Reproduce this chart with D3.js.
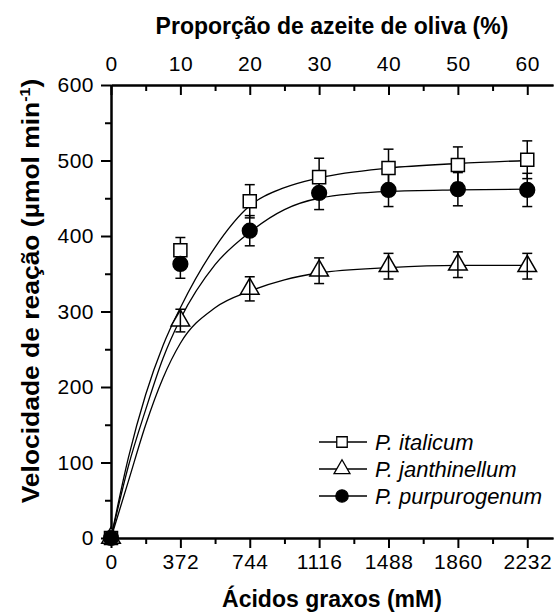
<!DOCTYPE html>
<html>
<head>
<meta charset="utf-8">
<script src="https://d3js.org/d3.v7.min.js"></script>
<style>
  body { margin: 0; background: #fff; }
  svg text { font-family: "Liberation Sans", Arial, sans-serif; fill: #000; }
</style>
</head>
<body>
<svg width="555" height="615"></svg>
<script>
// data
const xVals = [0, 372, 744, 1116, 1488, 1860, 2232];
const italicum = [0, 381, 446, 478, 490, 494, 501];
const italicumErr = [0, 17, 22, 25, 25, 24, 25];
const janthinellum = [0, 288, 330, 354, 360, 362, 360];
const janthinellumErr = [0, 15, 16, 17, 17, 17, 17];
const purpurogenum = [0, 363, 407, 457, 461, 462, 461];
const purpurogenumErr = [0, 19, 20, 22, 22, 22, 22];

// fitted curves
const curveX = [0, 93, 186, 279, 372, 558, 744, 930, 1116, 1488, 1860, 2232];
const italicumFit = [0, 106, 190, 255, 305, 385, 440, 464, 477, 490, 496, 500];
const janthinellumFit = [0, 75, 150, 212, 258, 305, 327, 342, 351, 358, 361, 361];
const purpurogenumFit = [0, 95, 170, 238, 290, 362, 405, 435, 450, 459, 461, 462];

const bottomTicks = [0, 372, 744, 1116, 1488, 1860, 2232];
const bottomMinor = [186, 558, 930, 1302, 1674, 2046];
const topTicks = [0, 10, 20, 30, 40, 50, 60];
const topMinor = [5, 15, 25, 35, 45, 55];
const leftTicks = [0, 100, 200, 300, 400, 500, 600];
const leftMinor = [50, 150, 250, 350, 450, 550];

const svg = d3.select('svg');

const x = d3.scaleLinear().domain([0, 2370]).range([111, 553]);
const xTop = d3.scaleLinear().domain([0, 2370 / 37.2]).range([111, 553]);
const y = d3.scaleLinear().domain([0, 600]).range([538, 85]);

function styleAxis(g) {
    g.select('.domain').attr('stroke', '#000').attr('stroke-width', 2);
    g.selectAll('.tick line').attr('stroke', '#000').attr('stroke-width', 2);
    g.selectAll('.tick text').style('font-size', '21px').style('letter-spacing', '0.5px').attr('fill', '#000');
}

const fmt = d3.format('d');

// bottom axis
svg.append('g').attr('transform', 'translate(0,538)')
    .call(d3.axisBottom(x).tickValues(bottomMinor).tickSize(6).tickFormat('').tickSizeOuter(0))
    .call(styleAxis);
svg.append('g').attr('transform', 'translate(0,538)')
    .call(d3.axisBottom(x).tickValues(bottomTicks).tickSize(10).tickPadding(6).tickFormat(fmt).tickSizeOuter(0))
    .call(styleAxis);

// top axis (ticks inward)
svg.append('g').attr('transform', 'translate(0,85)')
    .call(d3.axisTop(xTop).tickValues(topMinor).tickSize(-6).tickFormat('').tickSizeOuter(0))
    .call(styleAxis);
svg.append('g').attr('transform', 'translate(0,85)')
    .call(d3.axisTop(xTop).tickValues(topTicks).tickSize(-10).tickPadding(14).tickFormat(fmt).tickSizeOuter(0))
    .call(styleAxis);

// left axis
svg.append('g').attr('transform', 'translate(111,0)')
    .call(d3.axisLeft(y).tickValues(leftMinor).tickSize(6).tickFormat('').tickSizeOuter(0))
    .call(styleAxis);
svg.append('g').attr('transform', 'translate(111,0)')
    .call(d3.axisLeft(y).tickValues(leftTicks).tickSize(10).tickPadding(7).tickFormat(fmt).tickSizeOuter(0))
    .call(styleAxis);

// titles
svg.append('text')
    .attr('x', 332).attr('y', 34)
    .attr('text-anchor', 'middle')
    .style('font-size', '23px').style('font-weight', 'bold')
    .text('Proporção de azeite de oliva (%)');

svg.append('text')
    .attr('x', 332).attr('y', 607)
    .attr('text-anchor', 'middle')
    .style('font-size', '23px').style('font-weight', 'bold')
    .text('Ácidos graxos (mM)');

// the reference stretches this title along its length
const yt = svg.append('text')
    .attr('transform', 'translate(39,291) rotate(-90) scale(1.15,1)')
    .attr('text-anchor', 'middle')
    .style('font-size', '23px').style('font-weight', 'bold');
yt.append('tspan').text('Velocidade de reação (µmol min');
yt.append('tspan').attr('dy', -9).style('font-size', '14px').text('-1');
yt.append('tspan').attr('dy', 9).text(')');

// curves
const line = d3.line()
    .x((d, i) => x(curveX[i]))
    .y(d => y(d))
    .curve(d3.curveMonotoneX);

[italicumFit, janthinellumFit, purpurogenumFit].forEach(fit => {
    svg.append('path')
        .attr('d', line(fit))
        .attr('fill', 'none')
        .attr('stroke', '#000')
        .attr('stroke-width', 1.3);
});

function errorBars(vals, errs, cls) {
    const g = svg.append('g').attr('class', cls);
    xVals.forEach((xv, i) => {
        if (errs[i] === 0) return;
        const cx = x(xv);
        g.append('line').attr('x1', cx).attr('x2', cx)
            .attr('y1', y(vals[i] - errs[i])).attr('y2', y(vals[i] + errs[i]));
        [vals[i] - errs[i], vals[i] + errs[i]].forEach(v => {
            g.append('line').attr('x1', cx - 5).attr('x2', cx + 5)
                .attr('y1', y(v)).attr('y2', y(v));
        });
    });
    g.selectAll('line').attr('stroke', '#000').attr('stroke-width', 1.5);
}

const sq = d3.symbol().type(d3.symbolSquare).size(170);
const tri = d3.symbol().type(d3.symbolTriangle).size(150);
const circ = d3.symbol().type(d3.symbolCircle).size(170);

function markers(vals, sym, fill) {
    svg.append('g').selectAll('path')
        .data(vals)
        .enter().append('path')
        .attr('transform', (d, i) => 'translate(' + x(xVals[i]) + ',' + y(d) + ')')
        .attr('d', sym)
        .attr('fill', fill)
        .attr('stroke', '#000')
        .attr('stroke-width', 1.5);
}

errorBars(italicum, italicumErr, 'err-it');
errorBars(purpurogenum, purpurogenumErr, 'err-pu');
markers(italicum, sq, '#fff');
markers(janthinellum, tri, '#fff');
errorBars(janthinellum, janthinellumErr, 'err-ja');
markers(purpurogenum, circ, '#000');

// legend
const legend = [
    { name: 'P. italicum', sym: d3.symbol().type(d3.symbolSquare).size(110), fill: '#fff', y: 442 },
    { name: 'P. janthinellum', sym: d3.symbol().type(d3.symbolTriangle).size(110), fill: '#fff', y: 469 },
    { name: 'P. purpurogenum', sym: d3.symbol().type(d3.symbolCircle).size(120), fill: '#000', y: 496 }
];
legend.forEach(l => {
    svg.append('line')
        .attr('x1', 319).attr('x2', 367).attr('y1', l.y).attr('y2', l.y)
        .attr('stroke', '#000').attr('stroke-width', 1.3);
    svg.append('path')
        .attr('transform', 'translate(342,' + l.y + ')')
        .attr('d', l.sym)
        .attr('fill', l.fill).attr('stroke', '#000').attr('stroke-width', 1.3);
    svg.append('text')
        .attr('x', 375).attr('y', l.y + 8)
        .style('font-size', '22px').style('font-style', 'italic')
        .text(l.name);
});
</script>
</body>
</html>
